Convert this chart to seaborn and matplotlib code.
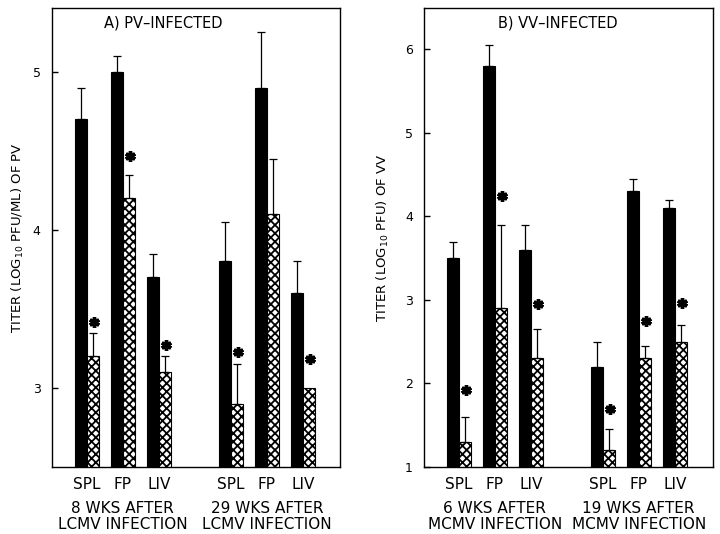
import numpy as np
import pandas as pd
import seaborn as sns
import matplotlib.pyplot as plt

tissues = ["SPL", "FP", "LIV"]

# panel A: PV-infected
pv_groups = ["8 WKS AFTER\nLCMV INFECTION", "29 WKS AFTER\nLCMV INFECTION"]
pv_control = [4.7, 5.0, 3.7, 3.8, 4.9, 3.6]
pv_control_err = [0.2, 0.1, 0.15, 0.25, 0.35, 0.2]
pv_immune = [3.2, 4.2, 3.1, 2.9, 4.1, 3.0]
pv_immune_err = [0.15, 0.15, 0.1, 0.25, 0.35, 0.0]
pv_stars = [3.42, 4.47, 3.27, 3.23, None, 3.18]

# panel B: VV-infected
vv_groups = ["6 WKS AFTER\nMCMV INFECTION", "19 WKS AFTER\nMCMV INFECTION"]
vv_control = [3.5, 5.8, 3.6, 2.2, 4.3, 4.1]
vv_control_err = [0.2, 0.25, 0.3, 0.3, 0.15, 0.1]
vv_immune = [1.3, 2.9, 2.3, 1.2, 2.3, 2.5]
vv_immune_err = [0.3, 1.0, 0.35, 0.25, 0.15, 0.2]
vv_stars = [1.92, 4.24, 2.95, 1.7, 2.75, 2.96]

sns.set_style("ticks")
plt.rcParams["font.family"] = ["DejaVu Sans"]
plt.rcParams["hatch.linewidth"] = 1.3
plt.rcParams["axes.linewidth"] = 1.0
for key in ["text.color", "axes.labelcolor", "xtick.color", "ytick.color",
            "axes.edgecolor"]:
    plt.rcParams[key] = "black"


def make_frame(groups, control, immune):
    slots = [f"{g}|{t}" for g in range(len(groups)) for t in tissues]
    rows = []
    for slot, c, i in zip(slots, control, immune):
        rows.append({"slot": slot, "mouse": "control", "titer": c})
        rows.append({"slot": slot, "mouse": "immune", "titer": i})
    order = slots[:3] + ["gap"] + slots[3:]
    return pd.DataFrame(rows), order


def draw_panel(ax, groups, control, control_err, immune, immune_err, stars,
               ylim, yticks, ylabel, title, title_x, right_pad, labelpad):
    df, order = make_frame(groups, control, immune)
    sns.barplot(data=df, x="slot", y="titer", hue="mouse", order=order,
                hue_order=["control", "immune"], palette=["black", "white"],
                width=0.667, errorbar=None, legend=False, saturation=1,
                edgecolor="black", linewidth=0.8, ax=ax)

    ctrl_bars = sorted(ax.containers[0], key=lambda b: b.get_x())
    imm_bars = sorted(ax.containers[1], key=lambda b: b.get_x())
    for b in imm_bars:
        b.set_hatch("xxxx")

    for bars, errs in [(ctrl_bars, control_err), (imm_bars, immune_err)]:
        xs = [b.get_x() + b.get_width() / 2 for b in bars]
        hs = [b.get_height() for b in bars]
        keep = [k for k, e in enumerate(errs) if e > 0]
        ax.errorbar([xs[k] for k in keep], [hs[k] for k in keep],
                    yerr=[np.zeros(len(keep)), [errs[k] for k in keep]],
                    fmt="none", ecolor="black", elinewidth=0.9,
                    capsize=3, capthick=0.9, zorder=5)

    for b, s in zip(imm_bars, stars):
        if s is not None:
            ax.plot(b.get_x() + b.get_width() / 2 + 0.03, s, marker=(6, 2, 0),
                    ms=7.5, mew=2.5, color="black", zorder=6)

    ax.set_xlim(-0.97, len(order) - 1 + right_pad)
    ax.set_ylim(*ylim)
    ax.set_yticks(yticks)
    ax.set_yticklabels([str(t) for t in yticks], fontsize=9)
    ax.set_xticks(range(len(order)))
    ax.set_xticklabels(["" if s == "gap" else s.split("|")[1] for s in order],
                       fontsize=11)
    ax.tick_params(axis="y", direction="in", length=4, width=1, pad=8)
    ax.tick_params(axis="x", length=0, pad=7)
    ax.set_xlabel("")
    ax.set_ylabel(ylabel, fontsize=9.5, labelpad=labelpad)

    for g, label in enumerate(groups):
        ax.text(order.index(f"{g}|FP"), -0.107, label,
                transform=ax.get_xaxis_transform(), ha="center", va="center",
                fontsize=11, linespacing=1.1)

    ax.text(title_x, 0.967, title, transform=ax.transAxes,
            ha="left", va="center", fontsize=10.5)


fig = plt.figure(figsize=(7.2, 5.34), dpi=100)
ax_a = fig.add_axes([0.072, 0.1255, 0.4, 0.86])
ax_b = fig.add_axes([0.589, 0.1255, 0.401, 0.86])

draw_panel(ax_a, pv_groups, pv_control, pv_control_err, pv_immune, pv_immune_err,
           pv_stars, (2.5, 5.405), [3, 4, 5],
           "TITER (LOG$_{10}$ PFU/ML) OF PV", "A) PV\u2013INFECTED", 0.18, 1.03, 5)
draw_panel(ax_b, vv_groups, vv_control, vv_control_err, vv_immune, vv_immune_err,
           vv_stars, (1, 6.5), [1, 2, 3, 4, 5, 6],
           "TITER (LOG$_{10}$ PFU) OF VV", "B) VV\u2013INFECTED", 0.256, 1.06, 10)

fig.savefig("out.png", dpi=100)
